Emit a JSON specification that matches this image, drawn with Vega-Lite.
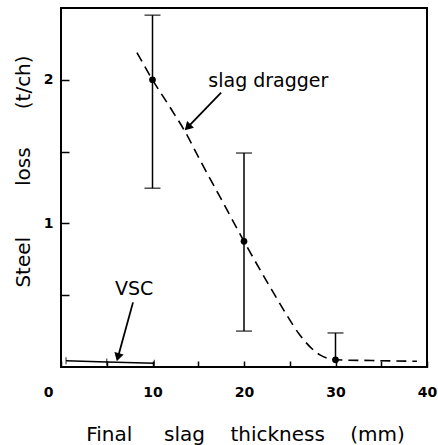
{
  "$schema": "https://vega.github.io/schema/vega-lite/v6.json",
  "width": 366,
  "height": 359,
  "autosize": "none",
  "padding": {"left": 61, "top": 8, "right": 11, "bottom": 78},
  "background": "white",
  "config": {"view": {"stroke": "black", "strokeWidth": 2}, "font": "DejaVu Sans"},
  "datasets": {
    "obs": [
      {"x": 10, "y": 2.0, "lo": 1.245, "hi": 2.45},
      {"x": 20, "y": 0.875, "lo": 0.25, "hi": 1.49},
      {"x": 30, "y": 0.05, "lo": 0.05, "hi": 0.237}
    ],
    "caps": [
      {"x": 10, "y": 2.45},
      {"x": 10, "y": 1.245},
      {"x": 20, "y": 1.49},
      {"x": 20, "y": 0.25},
      {"x": 30, "y": 0.237}
    ],
    "curve": [
      {"x": 8.3, "y": 2.19},
      {"x": 10, "y": 2.0},
      {"x": 12, "y": 1.8},
      {"x": 13.55, "y": 1.64},
      {"x": 15.2, "y": 1.44},
      {"x": 17.5, "y": 1.17},
      {"x": 20, "y": 0.875},
      {"x": 22.85, "y": 0.557},
      {"x": 24.5, "y": 0.38},
      {"x": 26.1, "y": 0.223},
      {"x": 28.3, "y": 0.084},
      {"x": 30, "y": 0.05},
      {"x": 34, "y": 0.045},
      {"x": 38.9, "y": 0.04}
    ],
    "vsc": [
      {"x": 0.55, "y": 0.044},
      {"x": 5.0, "y": 0.034},
      {"x": 10.2, "y": 0.026}
    ],
    "label1": [{"x": 16.1, "y": 1.95, "text": "slag dragger"}],
    "label2": [{"x": 5.9, "y": 0.5, "text": "VSC"}],
    "arrows": [
      {"x": 17.5, "y": 1.91, "x2": 13.86, "y2": 1.67},
      {"x": 7.87, "y": 0.45, "x2": 6.23, "y2": 0.07}
    ],
    "head1": [{"x": 13.86, "y": 1.67}],
    "head2": [{"x": 6.23, "y": 0.07}]
  },
  "layer": [
    {
      "data": {"name": "obs"},
      "mark": {"type": "rule", "color": "black", "strokeWidth": 1.5},
      "encoding": {
        "x": {
          "field": "x", "type": "quantitative",
          "scale": {"domain": [0, 40], "nice": false, "zero": false},
          "axis": {
            "title": "Final\u00a0\u00a0\u00a0\u00a0\u00a0slag\u00a0\u00a0\u00a0\u00a0thickness\u00a0\u00a0\u00a0\u00a0(mm)",
            "values": [0, 5, 10, 15, 20, 25, 30, 35, 40],
            "labelExpr": "datum.value % 10 === 0 ? datum.label : ''",
            "domain": false, "grid": false,
            "tickSize": -6, "tickColor": "black", "tickWidth": 1.5,
            "labelPadding": 24, "labelFont": "DejaVu Sans", "labelFontWeight": "bold",
            "labelFontSize": 14, "labelColor": "black", "labelFlush": false, "labelBaseline": "top",
            "labelOffset": {"condition": {"test": "datum.value === 0", "value": -13}, "value": 0},
            "titleFont": "DejaVu Sans", "titleFontSize": 20, "titleFontWeight": "normal",
            "titleColor": "black", "titleX": 184, "titleY": 73, "titleBaseline": "alphabetic"
          }
        },
        "y": {
          "field": "lo", "type": "quantitative",
          "scale": {"domain": [0, 2.5], "nice": false},
          "axis": {
            "title": "Steel\u00a0\u00a0\u00a0\u00a0\u00a0\u00a0\u00a0\u00a0loss\u00a0\u00a0\u00a0\u00a0\u00a0\u00a0(t/ch)",
            "values": [0.5, 1, 1.5, 2],
            "labelExpr": "datum.value === 1 ? '1' : datum.value === 2 ? '2' : ''",
            "domain": false, "grid": false,
            "tickSize": -8, "tickColor": "black", "tickWidth": 1.5,
            "labelPadding": 16, "labelFont": "DejaVu Sans", "labelFontWeight": "bold",
            "labelFontSize": 14, "labelColor": "black",
            "titleFont": "DejaVu Sans", "titleFontSize": 20, "titleFontWeight": "normal",
            "titleColor": "black", "titleX": -32, "titleY": 163, "titleAngle": 270,
            "titleBaseline": "alphabetic", "titleAlign": "center"
          }
        },
        "y2": {"field": "hi"}
      }
    },
    {
      "data": {"name": "caps"},
      "mark": {"type": "tick", "color": "black", "orient": "horizontal", "size": 16, "thickness": 1.5},
      "encoding": {
        "x": {"field": "x", "type": "quantitative"},
        "y": {"field": "y", "type": "quantitative"}
      }
    },
    {
      "data": {"name": "curve"},
      "mark": {"type": "line", "color": "black", "strokeWidth": 1.6, "strokeDash": [10, 6], "interpolate": "monotone"},
      "encoding": {
        "x": {"field": "x", "type": "quantitative"},
        "y": {"field": "y", "type": "quantitative"}
      }
    },
    {
      "data": {"name": "obs"},
      "mark": {"type": "circle", "color": "black", "size": 45, "opacity": 1},
      "encoding": {
        "x": {"field": "x", "type": "quantitative"},
        "y": {"field": "y", "type": "quantitative"}
      }
    },
    {
      "data": {"name": "vsc"},
      "mark": {"type": "line", "color": "black", "strokeWidth": 1.5},
      "encoding": {
        "x": {"field": "x", "type": "quantitative"},
        "y": {"field": "y", "type": "quantitative"}
      }
    },
    {
      "data": {"name": "vsc"},
      "mark": {"type": "tick", "color": "black", "orient": "vertical", "size": 7, "thickness": 1.2},
      "encoding": {
        "x": {"field": "x", "type": "quantitative"},
        "y": {"field": "y", "type": "quantitative"}
      }
    },
    {
      "data": {"name": "arrows"},
      "mark": {"type": "rule", "color": "black", "strokeWidth": 1.8},
      "encoding": {
        "x": {"field": "x", "type": "quantitative"},
        "y": {"field": "y", "type": "quantitative"},
        "x2": {"field": "x2"},
        "y2": {"field": "y2"}
      }
    },
    {
      "data": {"name": "head1"},
      "mark": {"type": "point", "shape": "triangle-up", "filled": true, "fill": "black", "stroke": "black", "strokeWidth": 1, "size": 60, "angle": 224, "opacity": 1},
      "encoding": {
        "x": {"field": "x", "type": "quantitative"},
        "y": {"field": "y", "type": "quantitative"}
      }
    },
    {
      "data": {"name": "head2"},
      "mark": {"type": "point", "shape": "triangle-up", "filled": true, "fill": "black", "stroke": "black", "strokeWidth": 1, "size": 60, "angle": 195, "opacity": 1},
      "encoding": {
        "x": {"field": "x", "type": "quantitative"},
        "y": {"field": "y", "type": "quantitative"}
      }
    },
    {
      "data": {"name": "label1"},
      "mark": {"type": "text", "font": "DejaVu Sans", "fontSize": 19, "color": "black", "baseline": "alphabetic", "align": "left"},
      "encoding": {
        "x": {"field": "x", "type": "quantitative"},
        "y": {"field": "y", "type": "quantitative"},
        "text": {"field": "text"}
      }
    },
    {
      "data": {"name": "label2"},
      "mark": {"type": "text", "font": "DejaVu Sans", "fontSize": 19, "color": "black", "baseline": "alphabetic", "align": "left"},
      "encoding": {
        "x": {"field": "x", "type": "quantitative"},
        "y": {"field": "y", "type": "quantitative"},
        "text": {"field": "text"}
      }
    }
  ]
}
